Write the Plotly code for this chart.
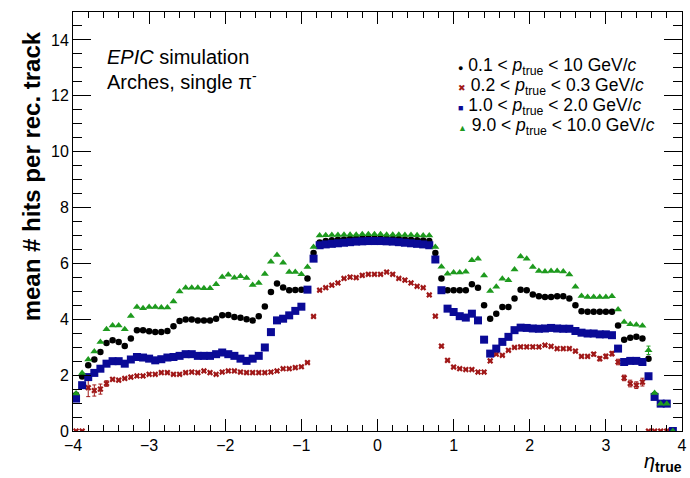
import numpy as np
import plotly.graph_objects as go

# 100 bins in eta_true from -4 to 4
eta_edges = np.linspace(-4, 4, 101)
eta = 0.5 * (eta_edges[:-1] + eta_edges[1:])

labels = [
    "0.1 < <i>p</i><sub>true</sub> < 10 GeV/<i>c</i>",
    "0.2 < <i>p</i><sub>true</sub> < 0.3 GeV/<i>c</i>",
    "1.0 < <i>p</i><sub>true</sub> < 2.0 GeV/<i>c</i>",
    "9.0 < <i>p</i><sub>true</sub> < 10.0 GeV/<i>c</i>",
]

hits_all = [
    1.30, 1.95, 2.35, 2.56, 2.83, 3.15, 3.25, 3.19, 3.04, 3.31,
    3.61, 3.61, 3.57, 3.54, 3.54, 3.58, 3.75, 3.94, 3.99, 3.99,
    3.96, 3.96, 3.96, 4.02, 4.14, 4.15, 4.08, 4.05, 4.00, 3.96,
    4.11, 4.46, 4.98, 5.28, 5.14, 5.04, 5.05, 5.06, 5.46, 6.37,
    6.75, 6.80, 6.83, 6.85, 6.86, 6.88, 6.89, 6.90, 6.90, 6.90,
    6.90, 6.89, 6.88, 6.87, 6.86, 6.85, 6.83, 6.82, 6.80, 6.37,
    5.46, 5.04, 5.04, 5.04, 5.04, 5.25, 5.13, 4.50, 4.02, 4.20,
    4.44, 4.44, 4.74, 5.06, 5.04, 4.89, 4.82, 4.80, 4.80, 4.82,
    4.82, 4.74, 4.50, 4.29, 4.27, 4.27, 4.27, 4.27, 4.27, 3.78,
    3.27, 3.34, 3.37, 3.31, 2.59, 1.30, 0.98, 0.98, 0.00, None,
]

hits_low = [
    0.00, 0.00, 1.55, 1.45, 1.50, 1.70, 1.85, 1.82, 1.88, 1.93,
    1.97, 1.97, 2.03, 2.03, 2.09, 2.09, 2.03, 2.03, 2.09, 2.11,
    2.09, 2.15, 2.09, 2.03, 2.11, 2.15, 2.15, 2.11, 2.09, 2.09,
    2.09, 2.09, 2.11, 2.15, 2.23, 2.23, 2.27, 2.30, 2.45, 4.10,
    5.04, 5.13, 5.22, 5.30, 5.46, 5.51, 5.49, 5.57, 5.61, 5.61,
    5.61, 5.69, 5.61, 5.46, 5.40, 5.30, 5.18, 5.13, 4.87, 4.11,
    3.04, 2.53, 2.29, 2.23, 2.20, 2.20, 2.11, 2.11, 2.51, 2.75,
    2.71, 2.89, 2.99, 3.01, 3.01, 3.01, 3.01, 3.07, 3.03, 2.95,
    2.95, 2.95, 2.86, 2.67, 2.67, 2.75, 2.59, 2.67, 2.77, 2.47,
    1.90, 1.70, 1.64, 1.75, 0.00, 0.00, 0.00, 0.00, 0.00, None,
]
err_low = [0.0] * 100
err_low[2], err_low[3], err_low[4], err_low[5] = 0.32, 0.2, 0.18, 0.1
for k, e in zip(range(85, 94), [0.06, 0.08, 0.08, 0.08, 0.1, 0.1, 0.12, 0.12, 0.14]):
    err_low[k] = e

hits_mid = [
    1.16, 1.64, 1.93, 2.08, 2.23, 2.41, 2.50, 2.50, 2.41, 2.56,
    2.65, 2.63, 2.59, 2.53, 2.57, 2.63, 2.65, 2.69, 2.75, 2.75,
    2.69, 2.69, 2.69, 2.75, 2.81, 2.75, 2.69, 2.59, 2.51, 2.59,
    2.69, 2.99, 3.54, 3.96, 4.02, 4.14, 4.30, 4.45, 5.06, 6.17,
    6.65, 6.68, 6.70, 6.72, 6.74, 6.76, 6.78, 6.79, 6.80, 6.80,
    6.80, 6.79, 6.78, 6.76, 6.74, 6.72, 6.70, 6.68, 6.65, 6.14,
    5.04, 4.38, 4.26, 4.11, 4.06, 4.20, 3.96, 3.27, 2.77, 2.95,
    3.19, 3.37, 3.61, 3.70, 3.69, 3.67, 3.66, 3.67, 3.69, 3.67,
    3.66, 3.66, 3.58, 3.52, 3.49, 3.49, 3.46, 3.46, 3.43, 2.95,
    2.47, 2.51, 2.51, 2.47, 1.96, 1.22, 0.98, 0.98, 0.00, None,
]

hits_high = [
    1.34, 2.08, 2.56, 2.85, 3.19, 3.64, 3.78, 3.78, 3.64, 4.12,
    4.44, 4.39, 4.44, 4.44, 4.42, 4.42, 4.64, 4.99, 5.13, 5.13,
    5.13, 5.11, 5.11, 5.25, 5.51, 5.59, 5.49, 5.54, 5.48, 5.23,
    5.30, 5.62, 6.06, 6.30, 6.02, 5.69, 5.69, 5.61, 5.87, 6.59,
    7.00, 7.01, 7.02, 7.02, 7.03, 7.03, 7.03, 7.04, 7.04, 7.04,
    7.04, 7.03, 7.03, 7.03, 7.02, 7.02, 7.01, 7.00, 7.00, 6.59,
    5.88, 5.63, 5.67, 5.67, 5.70, 6.11, 6.17, 5.57, 5.01, 5.16,
    5.45, 5.40, 5.78, 6.25, 6.17, 5.87, 5.73, 5.71, 5.73, 5.73,
    5.71, 5.60, 5.16, 4.83, 4.80, 4.80, 4.80, 4.80, 4.82, 4.35,
    3.90, 3.82, 3.80, 3.77, 2.89, 1.36, 0.98, 0.98, 0.00, None,
]
err_high = [0.0] * 100
err_high[94] = 0.15

colors = ["#000000", "#a01818", "#0a0a96", "#1e9a1e"]
symbols = ["circle", "x", "square", "triangle-up"]
sizes = [6.5, 5.5, 8, 7]
legend_glyphs = ["●", "✖", "■", "▲"]

series = [(hits_all, None), (hits_low, err_low), (hits_mid, None), (hits_high, err_high)]

fig = go.Figure()
for (vals, err), c, s, sz, lab in zip(series, colors, symbols, sizes, labels):
    tr = go.Scatter(
        x=eta, y=vals, mode="markers", name=lab, showlegend=False,
        marker=dict(color=c, symbol=s, size=sz, line=dict(width=0)),
    )
    if err is not None:
        tr.error_y = dict(type="data", array=err, color=c, thickness=1, width=2)
    fig.add_trace(tr)

font_family = "Liberation Sans, Arial, sans-serif"

H = 478
top, bottom = 12, 47
plot_h = H - top - bottom
def py(ypix):
    return (H - bottom - ypix) / plot_h

L, R = 73, 3
plot_w = 690 - L - R
def px(xpix):
    return (xpix - L) / plot_w

# legend as text annotations
leg_y = [66, 86, 106, 126]
for g, c, lab, yy in zip(legend_glyphs, colors, labels, leg_y):
    fig.add_annotation(
        xref="paper", yref="paper", x=px(459), y=py(yy), xanchor="left", yanchor="middle",
        text=f"<span style='color:{c};font-size:9px'>{g}</span> {lab}",
        showarrow=False, font=dict(family=font_family, size=17.5, color="black"),
    )

fig.add_annotation(
    xref="paper", yref="paper", x=px(105), y=py(57), xanchor="left", yanchor="middle",
    text="<i>EPIC</i> simulation", showarrow=False,
    font=dict(family=font_family, size=20, color="black"),
)
fig.add_annotation(
    xref="paper", yref="paper", x=px(105), y=py(80), xanchor="left", yanchor="middle",
    text="Arches, single π<sup>-</sup>", showarrow=False,
    font=dict(family=font_family, size=20, color="black"),
)
# axis titles
fig.add_annotation(
    xref="paper", yref="paper", x=px(31), y=py(176), xanchor="center", yanchor="middle",
    text="<b>mean # hits per rec. track</b>", textangle=-90, showarrow=False,
    font=dict(family=font_family, size=24, color="black"),
)
fig.add_annotation(
    xref="paper", yref="paper", x=px(689), y=py(462), xanchor="right", yanchor="middle",
    text="<i>η</i><sub><b>true</b></sub>", showarrow=False,
    font=dict(family=font_family, size=20, color="black"),
)

fig.update_layout(
    width=690, height=478,
    margin=dict(l=L, r=R, t=top, b=bottom),
    paper_bgcolor="white", plot_bgcolor="white",
    font=dict(family=font_family, size=16, color="black"),
    xaxis=dict(
        range=[-4, 4], dtick=1, tick0=0, ticks="inside", ticklen=12, tickwidth=1,
        tickcolor="black", showline=True, linecolor="black", linewidth=1,
        mirror="ticks", showgrid=False, zeroline=False, ticklabeloverflow="allow",
        minor=dict(dtick=0.2, ticklen=6, ticks="inside", tickcolor="black", showgrid=False),
        tickfont=dict(size=16),
    ),
    yaxis=dict(
        range=[0, 15], dtick=2, tick0=0, ticks="inside", ticklen=18, tickwidth=1,
        tickcolor="black", showline=True, linecolor="black", linewidth=1,
        mirror="ticks", showgrid=False, zeroline=False, ticklabeloverflow="allow",
        minor=dict(dtick=0.5, ticklen=9, ticks="inside", tickcolor="black", showgrid=False),
        tickfont=dict(size=16),
    ),
)

fig.write_html("out.html")
